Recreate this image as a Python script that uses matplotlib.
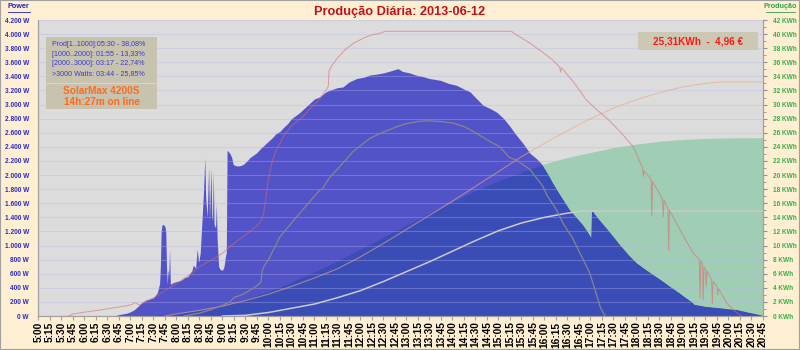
import matplotlib

matplotlib.use("Agg")
import matplotlib.pyplot as plt
import numpy as np
from matplotlib.lines import Line2D
from matplotlib.patches import Rectangle

plt.rcParams["font.family"] = ["Liberation Sans", "DejaVu Sans"]

# instantaneous inverter power [W]
power_time = [
    "6:38", "6:45", "6:55", "7:00", "7:05", "7:10", "7:15", "7:20", "7:25", "7:30",
    "7:35", "7:38", "7:39", "7:40", "7:41", "7:43", "7:45", "7:46", "7:47", "7:48",
    "7:49", "7:50", "7:51", "7:52", "7:55", "8:00", "8:05", "8:10", "8:15", "8:20",
    "8:22", "8:25", "8:27", "8:29", "8:31", "8:33", "8:35", "8:37", "8:38", "8:40",
    "8:42", "8:43", "8:45", "8:46", "8:47", "8:48", "8:49", "8:51", "8:52", "8:53",
    "8:55", "8:57", "9:00", "9:02", "9:04", "9:05", "9:06", "9:08", "9:10", "9:12",
    "9:14", "9:18", "9:22", "9:27", "9:32", "9:36", "9:40", "9:45", "9:50", "9:55",
    "10:00", "10:05", "10:10", "10:15", "10:20", "10:25", "10:30", "10:40", "10:50", "11:00",
    "11:07", "11:15", "11:20", "11:30", "11:37", "11:45", "11:55", "12:05", "12:12", "12:20",
    "12:30", "12:40", "12:49", "12:55", "13:04", "13:12", "13:22", "13:30", "13:44", "13:55",
    "14:05", "14:15", "14:23", "14:30", "14:40", "14:50", "14:58", "15:07", "15:15", "15:23",
    "15:32", "15:41", "15:50", "15:56", "16:05", "16:11", "16:20", "16:33", "16:42", "16:50",
    "16:58", "17:01", "17:02", "17:03", "17:10", "17:21", "17:30", "17:38", "17:50", "18:00",
    "18:10", "18:22", "18:33", "18:43", "18:55", "19:05", "19:13", "19:15", "19:30", "19:49",
    "20:00", "20:11", "20:25", "20:41", "20:45",
]
power_w = [
    0, 20, 40, 60, 90, 140, 190, 220, 240, 260,
    330, 460, 700, 1200, 1290, 1300, 1270, 1200, 700, 450,
    650, 600, 950, 450, 470, 490, 500, 540, 560, 640,
    720, 680, 950, 760, 900, 1300, 1700, 2250, 1700, 1400,
    2130, 1350, 2100, 1450, 1350, 2050, 1300, 1250, 1600, 1100,
    700, 660, 650, 700, 850, 900, 2350, 2330, 2300, 2250,
    2150, 2130, 2130, 2150, 2200, 2250, 2280, 2320, 2380, 2430,
    2480, 2530, 2590, 2620, 2680, 2730, 2800, 2880, 2980, 3080,
    3110, 3180, 3205, 3240, 3250, 3320, 3370, 3390, 3420, 3430,
    3450, 3480, 3510, 3470, 3450, 3420, 3395, 3370, 3345, 3300,
    3275, 3220, 3180, 3100, 2990, 2940, 2890, 2800, 2690, 2570,
    2450, 2310, 2230, 2160, 2000, 1880, 1720, 1500, 1390, 1290,
    1160, 1100, 1480, 1480, 1380, 1240, 1120, 1010, 860, 750,
    670, 580, 500, 420, 330, 250, 190, 160, 130, 110,
    95, 85, 50, 14, 0,
]

# energy produced so far today [KWh]
energy_time = [
    "6:38", "7:00", "7:30", "8:00", "8:30", "9:00", "9:30", "10:00", "10:30", "11:00",
    "11:30", "12:00", "12:30", "13:00", "13:30", "14:00", "14:30", "15:00", "15:30", "16:00",
    "16:30", "17:00", "17:30", "18:00", "18:30", "19:00", "19:30", "20:00", "20:45",
]
energy_kwh = [
    0, 0.02, 0.1, 0.4, 0.8, 1.4, 2.4, 3.5, 4.8, 6.3,
    7.8, 9.5, 11.2, 12.9, 14.6, 16.2, 17.8, 19.2, 20.4, 21.6,
    22.5, 23.2, 23.9, 24.4, 24.8, 25.05, 25.2, 25.27, 25.31,
]

# reference power curve [W]
ref_power_time = [
    "8:10", "8:30", "8:45", "9:00", "9:10", "9:15", "9:18", "9:25", "9:35", "9:45",
    "9:50", "9:52", "9:55", "10:00", "10:15", "10:37", "11:07", "11:10", "11:20", "11:33",
    "11:50", "12:12", "12:30", "12:47", "13:00", "13:15", "13:26", "13:45", "14:00", "14:16",
    "14:30", "14:50", "15:02", "15:14", "15:24", "15:41", "15:58", "16:03", "16:16", "16:25",
    "16:37", "16:55", "16:59", "17:08", "17:13", "17:19",
]
ref_power_w = [
    0, 40, 90, 150, 205, 260, 275, 300, 360, 430,
    480, 650, 720, 800, 1125, 1410, 1790, 1800, 1970, 2120,
    2330, 2520, 2610, 2685, 2730, 2760, 2770, 2760, 2740, 2685,
    2600, 2470, 2400, 2250, 2210, 2080, 1840, 1720, 1500, 1300,
    1100, 700, 610, 300, 120, 0,
]

# irradiance-like trace [W]
trace_time = [
    "5:39", "5:45", "6:00", "6:20", "6:40", "6:55", "7:02", "7:05", "7:07", "7:10",
    "7:13", "7:20", "7:30", "7:45", "8:00", "8:15", "8:30", "8:45", "9:00", "9:15",
    "9:30", "9:45", "9:51", "9:53", "9:56", "10:00", "10:05", "10:10", "10:15", "10:20",
    "10:30", "10:44", "10:55", "11:05", "11:15", "11:18", "11:19", "11:23", "11:30", "11:40",
    "11:51", "12:05", "12:15", "12:25", "12:32", "15:17", "15:22", "15:28", "15:40", "15:54",
    "16:10", "16:20", "16:21", "16:22", "16:25", "16:40", "16:55", "17:08", "17:24", "17:40",
    "17:56", "18:08", "18:09", "18:10", "18:19", "18:20", "18:21", "18:34", "18:35", "18:36",
    "18:41", "18:42", "18:43", "19:00", "19:14", "19:22", "19:23", "19:24", "19:26", "19:27",
    "19:28", "19:30", "19:31", "19:32", "19:38", "19:39", "19:40", "19:45", "19:46", "19:47",
    "19:58", "20:08", "20:15", "20:17",
]
trace_w = [
    0, 30, 55, 85, 120, 145, 165, 185, 190, 165,
    160, 215, 255, 360, 460, 570, 700, 790, 890, 1030,
    1150, 1280, 1360, 1420, 1620, 1950, 2200, 2350, 2450, 2560,
    2700, 2820, 2950, 3060, 3200, 3260, 3480, 3560, 3660, 3780,
    3870, 3950, 3990, 4010, 4040, 4040, 4000, 3960, 3880, 3770,
    3640, 3530, 3460, 3520, 3490, 3290, 3060, 2930, 2780, 2600,
    2400, 2100, 1980, 2060, 1940, 1430, 1910, 1660, 1410, 1640,
    1530, 930, 1500, 1160, 890, 800, 250, 780, 740, 230,
    700, 660, 420, 640, 510, 180, 490, 420, 300, 390,
    180, 70, 14, 0,
]

# cumulative energy of a reference day [KWh]
best_time = [
    "7:45", "8:00", "8:30", "9:00", "9:30", "10:00", "10:30", "11:00", "11:30", "12:00",
    "12:30", "13:00", "13:30", "14:00", "14:30", "15:00", "15:30", "16:00", "16:30", "17:00",
    "17:30", "18:00", "18:30", "19:00", "19:30", "19:50", "20:45",
]
best_kwh = [
    0, 0.3, 0.8, 1.4, 2.2, 3.1, 4.2, 5.4, 6.7, 8.4,
    10.3, 12.3, 14.3, 16.3, 18.4, 20.5, 22.6, 24.5, 26.3, 28.0,
    29.5, 30.7, 31.7, 32.5, 33.0, 33.2, 33.2,
]

# cumulative energy, average day [KWh]
avg_time = [
    "9:00", "9:30", "10:00", "10:30", "11:00", "11:30", "12:00", "12:30", "13:00", "13:30",
    "14:00", "14:30", "15:00", "15:30", "16:00", "16:30", "16:50", "20:45",
]
avg_kwh = [
    0, 0.1, 0.5, 1.1, 1.7, 2.6, 3.6, 4.9, 6.3, 7.7,
    9.2, 10.7, 12.1, 13.2, 14.0, 14.6, 14.9, 14.9,
]

title = "Produção Diária: 2013-06-12"
summary_lines = [
    "Prod[1..1000]:05:30 - 38,08%",
    "[1000..2000]: 01:55 - 13,33%",
    "[2000..3000]: 03:17 - 22,74%",
    ">3000 Watts: 03:44 - 25,85%",
]
inverter_lines = ["SolarMax 4200S", "14h:27m on line"]
total_text = "25,31KWh  -  4,96 €"

power_ticks = list(range(0, 4201, 200))
power_labels = [f"{v:,} W".replace(",", ".") for v in power_ticks]
energy_ticks = list(range(0, 43, 2))
energy_labels = [f"{v} KWh" for v in energy_ticks]
time_ticks = [5 + q / 4 for q in range(64)]
time_labels = [f"{int(t)}:{int(round((t % 1) * 60)):02d}" for t in time_ticks]


def hours(labels):
    out = []
    for s in labels:
        h, m = s.split(":")
        out.append(int(h) + int(m) / 60.0)
    return np.array(out)


BG = "#FFEFD2"
fig = plt.figure(figsize=(8, 3.5), dpi=100, facecolor=BG)
ax = fig.add_axes([0.0481, 0.0971, 0.9056, 0.8457])
ax2 = ax.twinx()
ax.set_zorder(2)
ax2.set_zorder(1)
ax.patch.set_visible(False)
ax2.patch.set_visible(True)
ax2.patch.set_facecolor("#DCDCDC")

ax.set_xlim(5, 20.75)
ax.set_ylim(0, 4200)
ax2.set_ylim(0, 42)

# energy area sits underneath the power area
ax2.fill_between(hours(energy_time), 0, energy_kwh, color="#A0CEB4", lw=0)
pw = ax.fill_between(hours(power_time), 0, power_w, color="#5353C8", lw=0, zorder=1)
dk = ax.fill_between(hours(energy_time), 0, energy_kwh, color="#3A4DB6", lw=0,
                     zorder=1.1, transform=ax2.transData)
dk.set_clip_path(pw.get_paths()[0], ax.transData)

ax.plot(hours(avg_time), avg_kwh, transform=ax2.transData, color="#CDC9CB", lw=1.1, zorder=3)
ax.plot(hours(best_time), best_kwh, transform=ax2.transData, color="#E8A888", lw=0.8,
        alpha=0.6, zorder=3)
ax.plot(hours(ref_power_time), ref_power_w, color="#86868E", lw=0.9, zorder=3)
ax.plot(hours(trace_time), trace_w, color="#D86A6A", lw=0.7, alpha=0.6, zorder=3)

ax.set_yticks(power_ticks, power_labels)
ax.yaxis.grid(True, color="#B4B4F0", alpha=0.35, lw=0.8)
ax.set_axisbelow(False)
ax.tick_params(axis="y", length=0, pad=7, labelsize=4.7, labelcolor="#2B2BC8")
for lbl in ax.get_yticklabels():
    lbl.set_fontweight("bold")

ax2.set_yticks(energy_ticks, energy_labels)
ax2.set_yticks(range(0, 43), minor=True)
ax2.tick_params(axis="y", which="major", length=3, color="#909090", pad=4, labelsize=4.7,
                labelcolor="#33B04A")
ax2.tick_params(axis="y", which="minor", length=2, color="#909090")
for lbl in ax2.get_yticklabels():
    lbl.set_fontweight("bold")

ax.set_xticks(time_ticks, time_labels, rotation=90)
ax.tick_params(axis="x", length=3, color="#A0A0A0", pad=1)
for lbl in ax.get_xticklabels():
    lbl.set_fontweight("bold")
    lbl.set_fontsize(7.3)

for a in (ax, ax2):
    a.spines["top"].set_visible(False)
    for side in ("left", "right", "bottom"):
        a.spines[side].set_color("#A0A0A0")
        a.spines[side].set_linewidth(0.8)

fig.text(0.5, 0.966, title, ha="center", va="center", fontsize=9.2,
         fontweight="bold", color="#C0101A")
fig.text(0.0235, 0.981, "Power", ha="center", va="center", fontsize=5.2,
         fontweight="bold", color="#2222BB")
fig.add_artist(Line2D([0.010, 0.037], [0.967, 0.967], color="#2222BB", lw=0.6))
fig.text(0.9755, 0.981, "Produção", ha="center", va="center", fontsize=5.2,
         fontweight="bold", color="#33A04A")
fig.add_artist(Line2D([0.957, 0.994], [0.967, 0.967], color="#33A04A", lw=0.6))

# summary box, top left
fig.add_artist(Rectangle((0.0575, 0.6886), 0.1388, 0.2057, transform=fig.transFigure,
                         facecolor="#C8C3AE", edgecolor="none", zorder=5))
fig.add_artist(Line2D([0.0575, 0.1963], [1 - 82.7 / 350] * 2, color="#DAD6C6", lw=0.7,
                      zorder=6))
for i, line in enumerate(summary_lines):
    fig.text(0.0655, 1 - (45 + i * 9.4) / 350, line, ha="left", va="center",
             fontsize=5.1, color="#3A3AD0", zorder=7)
for i, line in enumerate(inverter_lines):
    fig.text(0.127, 1 - (91 + i * 10.7) / 350, line, ha="center", va="center",
             fontsize=7.2, fontweight="bold", color="#FF6A1A", zorder=7)

# daily total box, top right
fig.add_artist(Rectangle((0.7975, 1 - 49.5 / 350), 0.15, 17.5 / 350, transform=fig.transFigure,
                         facecolor="#CDC8B4", edgecolor="none", zorder=5))
fig.text(0.8725, 1 - 41.5 / 350, total_text, ha="center", va="center", fontsize=7.2,
         fontweight="bold", color="#FF1818", zorder=7)

fig.add_artist(Rectangle((0, 0), 1, 1, transform=fig.transFigure, fill=False,
                         edgecolor="#A0A0A0", lw=1.5))

fig.savefig("out.png", dpi=100, facecolor=BG)
